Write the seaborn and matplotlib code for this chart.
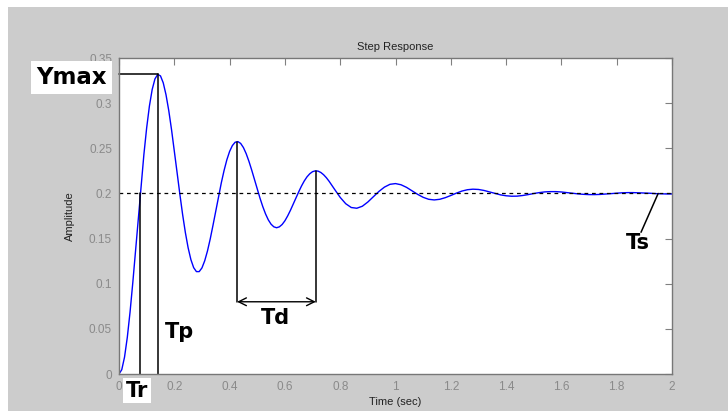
import numpy as np
import pandas as pd
import seaborn as sns
import matplotlib.pyplot as plt
from matplotlib.patches import Rectangle

# step response (sec, amplitude)
time_fine = np.round(np.arange(0, 0.805, 0.01), 2)
time_coarse = np.round(np.arange(0.82, 2.005, 0.02), 2)
amp_fine = [
    0.0000, 0.0048, 0.0187, 0.0405, 0.0687, 0.1015, 0.1372, 0.1739, 0.2098, 0.2431,
    0.2725, 0.2968, 0.3151, 0.3268, 0.3318, 0.3302, 0.3225, 0.3093, 0.2917, 0.2706,
    0.2474, 0.2233, 0.1994, 0.1768, 0.1567, 0.1398, 0.1267, 0.1178, 0.1134, 0.1134,
    0.1175, 0.1254, 0.1363, 0.1497, 0.1648, 0.1806, 0.1965, 0.2117, 0.2254, 0.2372,
    0.2465, 0.2530, 0.2567, 0.2574, 0.2554, 0.2508, 0.2440, 0.2355, 0.2258, 0.2154,
    0.2049, 0.1947, 0.1854, 0.1773, 0.1707, 0.1659, 0.1630, 0.1620, 0.1630, 0.1656,
    0.1697, 0.1751, 0.1813, 0.1881, 0.1950, 0.2018, 0.2082, 0.2138, 0.2184, 0.2218,
    0.2241, 0.2250, 0.2247, 0.2232, 0.2207, 0.2174, 0.2134, 0.2090, 0.2044, 0.1999,
    0.1956]
amp_coarse = [
    0.1886, 0.1844, 0.1836, 0.1858, 0.1905, 0.1963, 0.2022, 0.2070, 0.2101, 0.2109,
    0.2096, 0.2067, 0.2029, 0.1990, 0.1957, 0.1935, 0.1928, 0.1935, 0.1953, 0.1977,
    0.2003, 0.2026, 0.2041, 0.2047, 0.2044, 0.2033, 0.2017, 0.2000, 0.1984, 0.1974,
    0.1969, 0.1970, 0.1977, 0.1987, 0.1999, 0.2009, 0.2017, 0.2020, 0.2020, 0.2016,
    0.2009, 0.2002, 0.1995, 0.1990, 0.1987, 0.1987, 0.1989, 0.1993, 0.1998, 0.2003,
    0.2007, 0.2009, 0.2009, 0.2007, 0.2005, 0.2002, 0.1998, 0.1996, 0.1994, 0.1994]

final_value = 0.2
y_max = 0.332
t_rise = 0.075
t_peak = 0.142
td_times = [0.427, 0.712]
td_peaks = [0.2574, 0.2250]
td_level = 0.080
t_settle = 1.95

x_ticks = [0, 0.2, 0.4, 0.6, 0.8, 1, 1.2, 1.4, 1.6, 1.8, 2]
x_ticklabels = ["0", "0.2", "0.4", "0.6", "0.8", "1", "1.2", "1.4", "1.6", "1.8", "2"]
y_ticks = [0, 0.05, 0.1, 0.15, 0.2, 0.25, 0.3, 0.35]
y_ticklabels = ["0", "0.05", "0.1", "0.15", "0.2", "0.25", "0.3", "0.35"]

df = pd.DataFrame({"t": np.concatenate([time_fine, time_coarse]),
                   "y": amp_fine + amp_coarse})

sns.set_style("white")
plt.rcParams['font.family'] = ['Liberation Sans', 'DejaVu Sans']

fig = plt.figure(figsize=(7.28, 4.11), dpi=100, facecolor="white")
# grey window area (thin white strip on the top and left)
fig.patches.append(Rectangle((8 / 728, 0), 1, 1 - 7 / 411, transform=fig.transFigure,
                             facecolor="#cccccc", edgecolor="none", zorder=-10))
ax = fig.add_axes([119 / 728, 37 / 411, 553 / 728, 316 / 411])
ax.set_facecolor("white")

sns.lineplot(data=df, x="t", y="y", ax=ax, color="#0000ff", linewidth=1.0)
ax.axhline(final_value, color="black", linewidth=0.9, dashes=(3, 3))

ax.set_xlim(0, 2)
ax.set_ylim(0, 0.35)
ax.set_xticks(x_ticks)
ax.set_xticklabels(x_ticklabels)
ax.set_yticks(y_ticks)
ax.set_yticklabels(y_ticklabels)
ax.tick_params(direction="in", length=5, width=0.8, colors="#808080",
               labelsize=8.5, top=True, right=True, pad=5)
ax.tick_params(axis="both", labelcolor="#8a8a8a")
for s in ax.spines.values():
    s.set_color("#777777")
    s.set_linewidth(1.0)

ax.set_title("Step Response", fontsize=8, color="#222222", pad=6)
ax.set_xlabel("Time (sec)", fontsize=8, color="#222222", labelpad=3)
ax.set_ylabel("Amplitude", fontsize=8, color="#222222", labelpad=10)

# annotation lines
lk = dict(color="black", linewidth=1.1, clip_on=False)
ax.plot([0, t_peak], [y_max, y_max], **lk)
ax.plot([t_peak, t_peak], [0, y_max], **lk)
ax.plot([t_rise, t_rise], [0, final_value], **lk)
for tt, pk in zip(td_times, td_peaks):
    ax.plot([tt, tt], [td_level, pk], **lk)
ax.annotate("", xy=(td_times[0], td_level), xytext=(td_times[1], td_level),
            arrowprops=dict(arrowstyle="<->", color="black", lw=1.0,
                            shrinkA=0, shrinkB=0, mutation_scale=14))
ax.plot([t_settle, 1.888], [final_value, 0.157], **lk)

bold = dict(fontsize=15, fontweight="bold", family="DejaVu Sans", color="black",
            ha="center", va="center", clip_on=False)
ax.text(-0.172, 0.3285, "Ymax", **{**bold, "fontsize": 16.5},
        bbox=dict(facecolor="white", edgecolor="none", pad=3.5))
ax.text(0.066, -0.0185, "Tr", **bold,
        bbox=dict(facecolor="white", edgecolor="none", pad=2))
ax.text(0.217, 0.047, "Tp", **bold)
ax.text(0.564, 0.062, "Td", **bold)
ax.text(1.877, 0.145, "Ts", **bold)

fig.savefig("out.png", dpi=100, facecolor=fig.get_facecolor())
